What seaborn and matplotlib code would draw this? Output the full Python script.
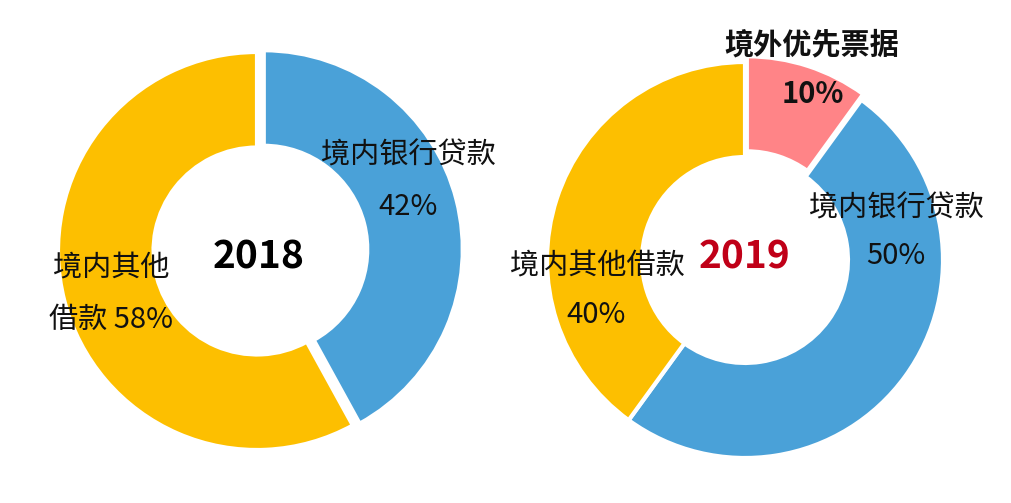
import matplotlib
matplotlib.use("Agg")
import matplotlib.pyplot as plt
import seaborn as sns

# =========================================================
# FINANCING STRUCTURE 2018 vs 2019 (DONUT CHARTS)
# =========================================================

# -------------------------------
# DATA
# -------------------------------
years = ["2018", "2019"]

labels_2018 = ["境内银行贷款", "境内其他借款"]
shares_2018 = [42, 58]

labels_2019 = ["境外优先票据", "境内银行贷款", "境内其他借款"]
shares_2019 = [10, 50, 40]

# -------------------------------
# STYLE
# -------------------------------
sns.set_theme(style="white")
plt.rcParams["font.family"] = ["Noto Sans CJK SC", "DejaVu Sans"]

colors = {
    "境外优先票据": "#FF8487",
    "境内银行贷款": "#4AA1D8",
    "境内其他借款": "#FDBF00",
}

W, H = 1012, 503

fig = plt.figure(figsize=(W / 100, H / 100), dpi=100)
ax = fig.add_axes([0, 0, 1, 1])


def img_y(y):
    # picture rows go down, the axes go up (small nudge for text centring)
    return H - y


# -------------------------------
# DONUTS
# -------------------------------
pies = [
    # (labels, shares, centre in picture px, radius, explode in px)
    (labels_2018, shares_2018, (257, 251), 199, [7, 0]),
    (labels_2019, shares_2019, (745, 260), 198, [6, 0, 0]),
]

for labels, shares, (cx, cy), r, explode in pies:
    ax.pie(
        shares,
        colors=[colors[l] for l in labels],
        startangle=90,
        counterclock=False,
        radius=r,
        center=(cx, img_y(cy)),
        explode=explode,
        wedgeprops=dict(width=r * 0.48, edgecolor="white", linewidth=3),
    )

ax.set_xlim(0, W)
ax.set_ylim(0, H)
ax.set_aspect("equal")
ax.axis("off")

# -------------------------------
# LABELS
# -------------------------------
txt = dict(ha="center", va="center", fontsize=21, color="#111111")
dy = 2  # matplotlib centres on the full line box, shift down a touch

# 2018
ax.text(408, img_y(153 + dy), labels_2018[0], **txt)
ax.text(408, img_y(205 + dy), f"{shares_2018[0]}%", **txt)
ax.text(111, img_y(266 + dy), labels_2018[1][:4], **txt)
ax.text(111, img_y(318 + dy), f"{labels_2018[1][4:]} {shares_2018[1]}%", **txt)
ax.text(259, img_y(255 + dy), years[0], ha="center", va="center",
        fontsize=28, fontweight="bold", color="black")

# 2019
ax.text(812, img_y(42 + dy), labels_2019[0], fontweight="bold", **txt)
ax.text(813, img_y(92 + dy), f"{shares_2019[0]}%", fontweight="bold", **txt)
ax.text(896, img_y(206 + dy), labels_2019[1], **txt)
ax.text(896, img_y(254 + dy), f"{shares_2019[1]}%", **txt)
ax.text(597, img_y(264 + dy), labels_2019[2], **txt)
ax.text(596, img_y(313 + dy), f"{shares_2019[2]}%", **txt)
ax.text(745, img_y(255 + dy), years[1], ha="center", va="center",
        fontsize=28, fontweight="bold", color="#C00018")

fig.savefig("out.png", dpi=100, facecolor="white")
